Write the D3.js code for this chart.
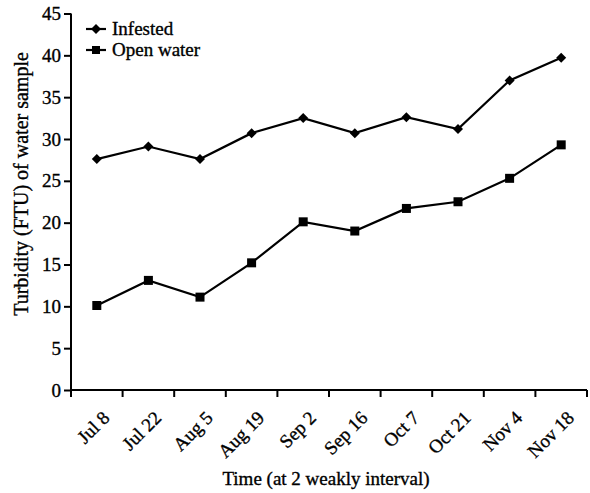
<!DOCTYPE html>
<html><head><meta charset="utf-8">
<script src="https://cdn.jsdelivr.net/npm/d3@7"></script>
<style>body{margin:0;background:#fff}svg text{font-family:"Liberation Serif","Times New Roman",serif;fill:#000;stroke:#000;stroke-width:0.35px}</style>
</head><body>
<svg id="c" width="590" height="493"></svg>
<script>
const categories = ["Jul 8","Jul 22","Aug 5","Aug 19","Sep 2","Sep 16","Oct 7","Oct 21","Nov 4","Nov 18"];
const infested = [27.6,29.1,27.6,30.7,32.5,30.7,32.6,31.2,37.0,39.7];
const openWater = [10.1,13.1,11.1,15.2,20.1,19.0,21.7,22.5,25.3,29.3];
const yTicks = [0,5,10,15,20,25,30,35,40,45];

(function(){
const svg = d3.select("#c");
const left = 71, right = 587, topY = 13.5, bottom = 390;
const x = d3.scaleBand().domain(categories).range([left, right]);
const y = d3.scaleLinear().domain([0,45]).range([bottom, topY]);
const fs = 19;

// y axis
const ya = svg.append("g").attr("transform",`translate(${left},0)`)
  .call(d3.axisLeft(y).tickValues(yTicks).tickSize(7).tickSizeOuter(0).tickPadding(3));
ya.attr("font-family",null).attr("font-size",null);
ya.select(".domain").attr("stroke","#000").attr("stroke-width",2).attr("d",`M0,${bottom}V${topY}`);
ya.selectAll(".tick line").attr("stroke","#000").attr("stroke-width",2);
ya.selectAll(".tick text").style("font-size",fs+"px").attr("fill","#000");

// x axis
const xa = svg.append("g").attr("transform",`translate(0,${bottom})`)
  .call(d3.axisBottom(x).tickSize(0).tickFormat(""));
xa.attr("font-family",null).attr("font-size",null);
xa.select(".domain").attr("stroke","#000").attr("stroke-width",2).attr("d",`M${left},0H${right}`);
xa.selectAll(".tick").remove();
const boundaries = categories.map(c => x(c)).concat([right]);
xa.selectAll("line.bt").data(boundaries).enter().append("line")
  .attr("x1",d=>d).attr("x2",d=>d).attr("y1",0).attr("y2",7)
  .attr("stroke","#000").attr("stroke-width",2);
xa.selectAll("text.lab").data(categories).enter().append("text")
  .attr("text-anchor","end")
  .attr("transform",d=>`translate(${x(d)+x.bandwidth()/2+14},${29}) rotate(-45)`)
  .style("font-size",fs+"px").text(d=>d);

// lines
const cx = (i)=>x(categories[i])+x.bandwidth()/2;
const line = d3.line().x((d,i)=>cx(i)).y(d=>y(d));
[infested, openWater].forEach(s=>{
  svg.append("path").datum(s).attr("d",line).attr("fill","none").attr("stroke","#000").attr("stroke-width",2.2);
});
const dia = d3.symbol(d3.symbolSquare,50)();
svg.selectAll("path.dia").data(infested).enter().append("path")
  .attr("d",dia)
  .attr("transform",(d,i)=>`translate(${cx(i)},${y(d)}) rotate(45)`).attr("fill","#000");
svg.selectAll("rect.sq").data(openWater).enter().append("rect")
  .attr("x",(d,i)=>cx(i)-4.5).attr("y",d=>y(d)-4.5)
  .attr("width",9).attr("height",9).attr("fill","#000");

// legend
const leg = [{name:"Infested",t:"d"},{name:"Open water",t:"s"}];
leg.forEach((l,i)=>{
  const ly = 29 + i*21;
  svg.append("line").attr("x1",86).attr("x2",106).attr("y1",ly).attr("y2",ly).attr("stroke","#000").attr("stroke-width",2.2);
  if(l.t==="d") svg.append("path").attr("d",dia).attr("transform",`translate(96,${ly}) rotate(45)`).attr("fill","#000");
  else svg.append("rect").attr("x",92).attr("y",ly-4).attr("width",8).attr("height",8).attr("fill","#000");
  svg.append("text").attr("x",112).attr("y",ly+6).style("font-size",fs+"px").text(l.name);
});

// titles
svg.append("text").attr("x",326).attr("y",485).attr("text-anchor","middle").style("font-size",fs+"px").text("Time (at 2 weakly interval)");
svg.append("text").attr("transform",`translate(28,184) rotate(-90)`).attr("text-anchor","middle").style("font-size","20px").text("Turbidity (FTU) of water sample");
})();
</script>
</body></html>
